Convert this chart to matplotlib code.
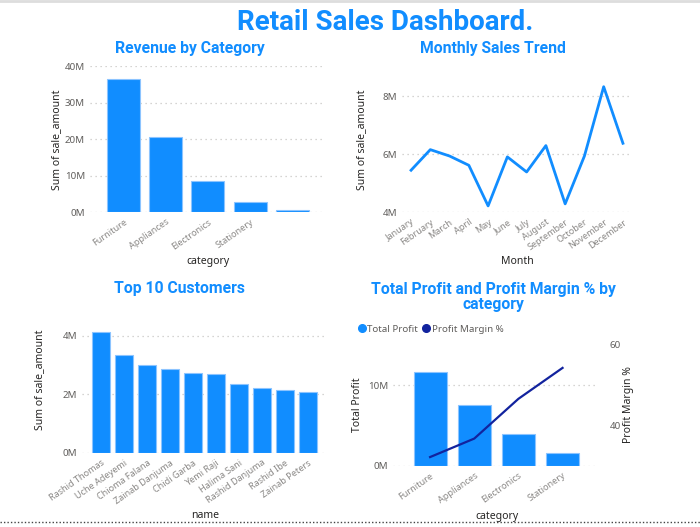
"""
Retail sales dashboard - four panels in the Power BI look
"""
import numpy as np
import matplotlib
matplotlib.use('Agg')
import matplotlib.pyplot as plt
from matplotlib.lines import Line2D
from matplotlib.ticker import FuncFormatter

# Data
categories = ['Furniture', 'Appliances', 'Electronics', 'Stationery', '']
revenue = [36.5e6, 20.6e6, 8.5e6, 2.8e6, 0.45e6]

months = ['January', 'February', 'March', 'April', 'May', 'June', 'July',
          'August', 'September', 'October', 'November', 'December']
monthly_sales = [5.44e6, 6.15e6, 5.93e6, 5.61e6, 4.21e6, 5.90e6, 5.38e6,
                 6.29e6, 4.28e6, 5.93e6, 8.32e6, 6.37e6]

customers = ['Rashid Thomas', 'Uche Adeyemi', 'Chioma Falana', 'Zainab Danjuma',
             'Chidi Garba', 'Yemi Raji', 'Halima Sani', 'Rashid Danjuma',
             'Rashid Ibe', 'Zainab Peters']
customer_sales = [4.14e6, 3.35e6, 2.99e6, 2.87e6, 2.73e6, 2.70e6, 2.35e6,
                  2.22e6, 2.14e6, 2.08e6]

profit_categories = ['Furniture', 'Appliances', 'Electronics', 'Stationery']
total_profit = [11.7e6, 7.55e6, 3.9e6, 1.5e6]
profit_margin = [32.1, 36.7, 46.6, 54.3]

# Colours and fonts
BLUE = '#118DFF'
EDGE = '#8CC4FF'
NAVY = '#12239E'
TICK = '#605E5C'
XTICK = '#8A8886'
LABEL = '#252423'
GRID = '#C8C6C4'
TITLE_FONT = ['Roboto', 'DejaVu Sans']
plt.rcParams['font.family'] = ['Noto Sans', 'DejaVu Sans']

W, H = 700, 527
fig = plt.figure(figsize=(W / 100, H / 100), dpi=100)


def box(l, t, r, b):
    # pixel box -> figure fraction
    return [l / W, 1 - b / H, (r - l) / W, (b - t) / H]


def ftext(x, y, s, **kw):
    fig.text(x / W, 1 - y / H, s, ha='center', va='center', **kw)


def millions(v, pos):
    return f'{v / 1e6:.0f}M'


def style(ax):
    for sp in ax.spines.values():
        sp.set_visible(False)
    ax.tick_params(length=0, colors=TICK, labelsize=7)
    ax.tick_params(axis='x', colors=XTICK, labelsize=6.5, pad=4)
    ax.grid(axis='y', color=GRID, linestyle=(0, (1, 3)), linewidth=0.9)
    ax.set_axisbelow(True)
    ax.yaxis.set_major_formatter(FuncFormatter(millions))


def rot_labels(ax, labels):
    ax.set_xticks(range(len(labels)))
    ax.set_xticklabels(labels, rotation=35, ha='right', rotation_mode='anchor')


# main title
ftext(385, 22, 'Retail Sales Dashboard.', fontsize=20, fontweight='bold',
      color=BLUE, family=TITLE_FONT)

# ---------- Revenue by Category ----------
ax1 = fig.add_axes(box(90, 66, 325, 212))
style(ax1)
ax1.bar(range(len(categories)), revenue, width=0.78, color=BLUE,
        edgecolor=EDGE, linewidth=0.8)
ax1.set_ylim(0, 40e6)
ax1.set_yticks([0, 10e6, 20e6, 30e6, 40e6])
ax1.set_xlim(-0.79, 4.77)
rot_labels(ax1, categories)
ftext(190, 49, 'Revenue by Category', fontsize=11.3, fontweight='bold',
      color=BLUE, family=TITLE_FONT)
ftext(57, 140, 'Sum of sale_amount', fontsize=7.5, color=LABEL, rotation=90)
ftext(208, 262, 'category', fontsize=7.5, color=LABEL)

# ---------- Monthly Sales Trend ----------
ax2 = fig.add_axes(box(402, 81.5, 632, 212))
style(ax2)
ax2.plot(range(len(months)), monthly_sales, color=BLUE, linewidth=2)
ax2.set_ylim(4e6, 8.5e6)
ax2.set_yticks([4e6, 6e6, 8e6])
ax2.set_xlim(-0.47, 11.47)
rot_labels(ax2, months)
ftext(493, 49, 'Monthly Sales Trend', fontsize=11.3, fontweight='bold',
      color=BLUE, family=TITLE_FONT)
ftext(362, 140, 'Sum of sale_amount', fontsize=7.5, color=LABEL, rotation=90)
ftext(517, 262, 'Month', fontsize=7.5, color=LABEL)

# ---------- Top 10 Customers ----------
ax3 = fig.add_axes(box(82, 328.6, 325, 452.7))
style(ax3)
ax3.bar(range(len(customers)), customer_sales, width=0.78, color=BLUE,
        edgecolor=EDGE, linewidth=0.8)
ax3.set_ylim(0, 4.25e6)
ax3.set_yticks([0, 2e6, 4e6])
ax3.set_xlim(-0.83, 9.74)
rot_labels(ax3, customers)
ftext(180, 289, 'Top 10 Customers', fontsize=11.3, fontweight='bold',
      color=BLUE, family=TITLE_FONT)
ftext(40, 380, 'Sum of sale_amount', fontsize=7.5, color=LABEL, rotation=90)
ftext(205, 516, 'name', fontsize=7.5, color=LABEL)

# ---------- Total Profit and Profit Margin % ----------
ax4 = fig.add_axes(box(393, 345, 597, 465.5))
style(ax4)
ax4.bar(range(len(profit_categories)), total_profit, width=0.75, color=BLUE,
        edgecolor=EDGE, linewidth=0.8)
ax4.set_ylim(0, 15e6)
ax4.set_yticks([0, 10e6])
ax4.set_xlim(-0.84, 3.78)
rot_labels(ax4, profit_categories)

ax4r = ax4.twinx()
for sp in ax4r.spines.values():
    sp.set_visible(False)
ax4r.plot(range(len(profit_categories)), profit_margin, color=NAVY, linewidth=1.6)
ax4r.set_ylim(30, 60)
ax4r.set_yticks([40, 60])
ax4r.tick_params(length=0, colors=TICK, labelsize=7, pad=9)

ftext(493, 297, 'Total Profit and Profit Margin % by\ncategory', fontsize=11.3,
      fontweight='bold', color=BLUE, family=TITLE_FONT, linespacing=1.05)
ftext(358, 405, 'Total Profit', fontsize=7.5, color=LABEL, rotation=90)
ftext(628, 405, 'Profit Margin %', fontsize=7.5, color=LABEL, rotation=90)
ftext(497, 516, 'category', fontsize=7.5, color=LABEL)

handles = [Line2D([], [], linestyle='none', marker='o', markersize=5.5, color=BLUE),
           Line2D([], [], linestyle='none', marker='o', markersize=5.5, color=NAVY)]
fig.legend(handles, ['Total Profit', 'Profit Margin %'], ncol=2, frameon=False,
           loc='center left', bbox_to_anchor=(348 / W, 1 - 329 / H),
           fontsize=7, handletextpad=0.05, columnspacing=0.4, handlelength=1,
           labelcolor=TICK)

# dotted separator at the bottom and faint top edge
fig.add_artist(Line2D([0, 1], [1 - 522 / H, 1 - 522 / H], color='#444444',
                      linestyle=(0, (1, 1.5)), linewidth=1))
fig.add_artist(Line2D([0, 1], [1 - 1 / H, 1 - 1 / H], color='#DDDDDD', linewidth=2))

fig.savefig('out.png', dpi=100)
